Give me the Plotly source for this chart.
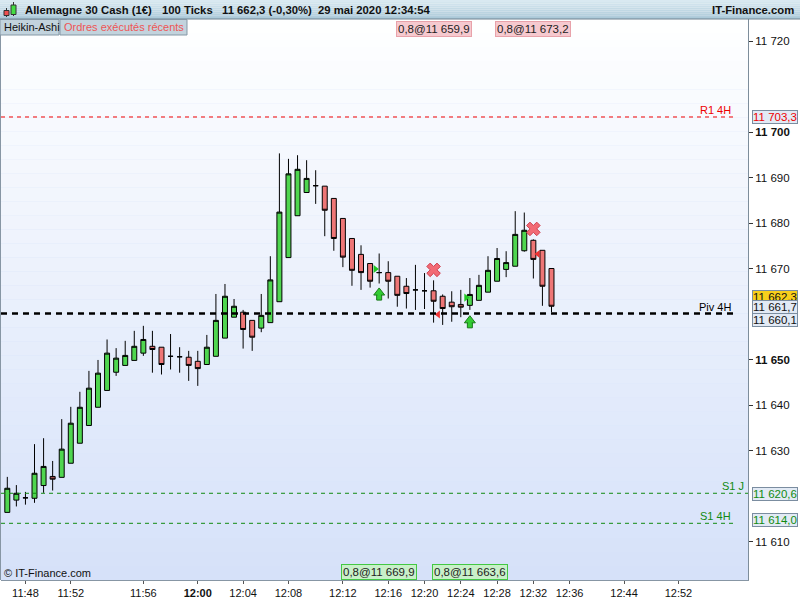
import plotly.graph_objects as go

# ---------------- data ----------------
candle_idx = list(range(61))
opens = [11616.4, 11619.1, 11619.6, 11619.5, 11622.3, 11624.3, 11624.1, 11627.2, 11631.6, 11635.5,
         11639.5, 11643.2, 11647.2, 11648.7, 11649.8, 11651.4, 11652.9, 11652.7, 11650.7, 11650.6,
         11650.5, 11649.6, 11648.9, 11650.7, 11654.7, 11659.3, 11660.4, 11658.6, 11656.9, 11658.1,
         11662.7, 11672.4, 11681.6, 11686.7, 11688.2, 11688.1, 11685.4, 11681.0, 11676.6, 11673.1,
         11671.1, 11669.1, 11669.1, 11668.3, 11666.1, 11665.3, 11665.1, 11665.1, 11663.9, 11662.6,
         11662.1, 11661.9, 11663.0, 11664.8, 11667.2, 11669.8, 11670.5, 11673.9, 11676.2, 11674.0,
         11670.0]
highs = [11624.2, 11622.4, 11620.9, 11631.4, 11632.7, 11627.7, 11636.9, 11639.6, 11642.9, 11647.5,
         11649.9, 11654.4, 11652.5, 11654.1, 11656.3, 11657.4, 11656.3, 11652.7, 11655.6, 11652.7,
         11651.9, 11651.9, 11655.4, 11664.4, 11666.6, 11663.3, 11660.9, 11658.6, 11664.4, 11672.7,
         11695.3, 11694.1, 11694.9, 11693.8, 11691.6, 11688.1, 11685.4, 11681.0, 11676.6, 11675.1,
         11671.1, 11673.3, 11671.6, 11668.3, 11667.9, 11670.8, 11669.0, 11667.4, 11664.3, 11665.0,
         11665.3, 11667.9, 11668.6, 11672.7, 11674.5, 11673.8, 11682.6, 11682.3, 11676.4, 11674.0,
         11670.0]
lows = [11616.4, 11617.7, 11618.1, 11618.5, 11620.7, 11621.2, 11624.1, 11627.2, 11631.6, 11635.5,
        11639.5, 11643.2, 11646.4, 11648.7, 11649.8, 11650.8, 11647.1, 11646.7, 11647.8, 11647.1,
        11645.3, 11644.2, 11648.9, 11650.7, 11654.7, 11659.3, 11652.4, 11651.9, 11656.0, 11658.1,
        11662.7, 11672.4, 11681.6, 11686.7, 11684.2, 11677.1, 11673.9, 11670.3, 11666.2, 11665.3,
        11665.8, 11666.7, 11663.4, 11661.6, 11661.2, 11660.9, 11661.1, 11658.1, 11657.6, 11658.3,
        11659.3, 11660.9, 11663.0, 11664.8, 11667.2, 11668.1, 11670.5, 11673.7, 11667.8, 11661.8,
        11660.4]
closes = [11621.7, 11620.6, 11619.6, 11625.0, 11626.5, 11623.7, 11630.3, 11636.0, 11639.5, 11643.7,
          11647.0, 11651.4, 11650.3, 11650.9, 11652.9, 11654.4, 11652.2, 11648.9, 11650.7, 11650.6,
          11648.7, 11648.0, 11652.7, 11658.6, 11663.9, 11661.7, 11656.6, 11654.9, 11659.7, 11667.5,
          11682.4, 11690.8, 11691.8, 11689.8, 11688.2, 11682.8, 11676.6, 11672.5, 11669.6, 11669.1,
          11667.2, 11669.1, 11667.2, 11664.1, 11664.5, 11665.3, 11665.1, 11662.8, 11661.2, 11661.6,
          11661.5, 11664.3, 11666.3, 11669.6, 11672.2, 11671.3, 11677.5, 11678.4, 11672.0, 11666.1,
          11661.7]

time_tick_idx = [2, 7, 15, 21, 26, 31, 37, 42, 46, 50, 54, 58, 62, 68, 74]
time_tick_labels = ["11:48", "11:52", "11:56", "12:00", "12:04", "12:08", "12:12", "12:16",
                    "12:20", "12:24", "12:28", "12:32", "12:36", "12:44", "12:52"]
price_ticks = [11610, 11630, 11640, 11650, 11670, 11680, 11690, 11700, 11720]
bold_price_ticks = [11650, 11700]

level_names = ["R1 4H", "Piv 4H", "S1 J", "S1 4H"]
level_values = [11703.3, 11660.1, 11620.6, 11614.0]
level_colors = ["#ee0000", "#000000", "#118a11", "#118a11"]

signal_up_idx = [41, 51]
signal_up_price = [11664.4, 11658.3]
signal_x_idx = [47, 58]
signal_x_price = [11669.7, 11678.7]

buy_candle = [41, 51]
buy_price = [11669.9, 11663.6]
sell_candle = [47, 58]
sell_price = [11659.9, 11673.2]
order_qty = 0.8

last_price = 11662.3
ha_close = 11661.7
title_parts = ["Allemagne 30 Cash (1€)", "100 Ticks", "11 662,3 (-0,30%)", "29 mai 2020 12:34:54"]

# ---------------- layout geometry ----------------
W, H = 800, 600
L, R, T, B = 1, 52, 19, 20
PW, PH = W - L - R, H - T - B
FONT = "Liberation Sans, Arial, sans-serif"
PX_PER_UNIT = 4.55


def px(x):
    return (x - L) / PW


def py(y):
    return (H - B - y) / PH


def fr(v, d=1):
    s = f"{v:,.{d}f}"
    return s.replace(",", " ").replace(".", ",")


def lerp(c1, c2, t):
    a = [int(c1[i:i + 2], 16) for i in (1, 3, 5)]
    b = [int(c2[i:i + 2], 16) for i in (1, 3, 5)]
    return "#" + "".join(f"{round(a[k] + (b[k] - a[k]) * t):02x}" for k in range(3))


fig = go.Figure()

fig.add_trace(go.Candlestick(
    x=candle_idx, open=opens, high=highs, low=lows, close=closes,
    increasing=dict(fillcolor="#4fd64f", line=dict(color="#000000", width=1)),
    decreasing=dict(fillcolor="#ee7676", line=dict(color="#000000", width=1)),
    whiskerwidth=0, showlegend=False, hoverinfo="skip"))

# up-arrow signals: shaft + head (pixel offsets converted to price units)
ARROW_G, ARROW_D = "#33cc33", "#1a7a1a"
fig.add_trace(go.Scatter(
    x=signal_up_idx, y=[p - 3.6 / PX_PER_UNIT for p in signal_up_price], mode="markers",
    marker=dict(symbol="square", size=5, color=ARROW_G, line=dict(color=ARROW_D, width=1)),
    showlegend=False, hoverinfo="skip"))
fig.add_trace(go.Scatter(
    x=signal_up_idx, y=[p + 1.3 / PX_PER_UNIT for p in signal_up_price], mode="markers",
    marker=dict(symbol="triangle-up", size=9.5, color=ARROW_G, line=dict(color=ARROW_D, width=1)),
    showlegend=False, hoverinfo="skip"))
fig.add_trace(go.Scatter(
    x=signal_up_idx, y=[p - 1.1 / PX_PER_UNIT for p in signal_up_price], mode="markers",
    marker=dict(symbol="square", size=3.6, color=ARROW_G, line=dict(width=0)),
    showlegend=False, hoverinfo="skip"))
fig.add_trace(go.Scatter(
    x=signal_x_idx, y=signal_x_price, mode="markers",
    marker=dict(symbol="x", size=12, color="#f26a74", line=dict(color="#d04050", width=1)),
    showlegend=False, hoverinfo="skip"))
# executed orders
fig.add_trace(go.Scatter(
    x=[c - 0.42 for c in buy_candle], y=buy_price, mode="markers",
    marker=dict(symbol="triangle-right", size=7, color="#22c822", line=dict(width=0)),
    showlegend=False, hoverinfo="skip"))
fig.add_trace(go.Scatter(
    x=[c + 0.5 for c in sell_candle], y=sell_price, mode="markers",
    marker=dict(symbol="triangle-left", size=7, color="#ee3333", line=dict(width=0)),
    showlegend=False, hoverinfo="skip"))

shapes = []
annotations = []

# plot background gradient
N = 40
top_c, bot_c = "#ffffff", "#d5e1f9"
for i in range(N):
    y0 = T + PH * i / N
    y1 = T + PH * (i + 1) / N
    shapes.append(dict(type="rect", xref="paper", yref="paper", x0=0, x1=1, y0=py(y1), y1=py(y0),
                       fillcolor=lerp(top_c, bot_c, (i + 0.5) / N), line=dict(width=0), layer="below"))

# header gradient
NH = 10
for i in range(NH):
    y0 = 19 * i / NH
    y1 = 19 * (i + 1) / NH
    shapes.append(dict(type="rect", xref="paper", yref="paper", x0=px(0), x1=px(800), y0=py(y1), y1=py(y0),
                       fillcolor=lerp("#dcebf2", "#a9c8d8", (i + 0.5) / NH), line=dict(width=0)))
shapes.append(dict(type="line", xref="paper", yref="paper", x0=px(0), x1=px(800), y0=py(19), y1=py(19),
                   line=dict(color="#6f8290", width=1)))

# left border
shapes.append(dict(type="line", xref="paper", yref="paper", x0=px(0.5), x1=px(0.5), y0=0, y1=1,
                   line=dict(color="#8796a4", width=1)))

# legend buttons
for (x0, x1, txt, col) in [(0, 59, "Heikin-Ashi", "#111111"), (60, 187, "Ordres exécutés récents", "#ee5555")]:
    shapes.append(dict(type="rect", xref="paper", yref="paper", x0=px(x0), x1=px(x1), y0=py(35), y1=py(19.5),
                       fillcolor="#c2d3dd", line=dict(color="#8597a5", width=1)))
    annotations.append(dict(x=px(x0 + 2), y=py(27.5), xref="paper", yref="paper", text=txt, showarrow=False,
                            xanchor="left", yanchor="middle", font=dict(family=FONT, size=11, color=col)))

# header icon
shapes += [
    dict(type="line", xref="paper", yref="paper", x0=px(6.5), x1=px(6.5), y0=py(17), y1=py(8),
         line=dict(color="#333333", width=1)),
    dict(type="rect", xref="paper", yref="paper", x0=px(4), x1=px(9), y0=py(15.5), y1=py(10.5),
         fillcolor="#ee5050", line=dict(color="#333333", width=1)),
    dict(type="line", xref="paper", yref="paper", x0=px(13.5), x1=px(13.5), y0=py(16), y1=py(2),
         line=dict(color="#333333", width=1)),
    dict(type="rect", xref="paper", yref="paper", x0=px(11), x1=px(16), y0=py(14.5), y1=py(5),
         fillcolor="#44dd44", line=dict(color="#333333", width=1)),
]

# header text
for xpos, txt in zip([23, 160, 220, 316], title_parts):
    annotations.append(dict(x=px(xpos), y=py(10), xref="paper", yref="paper", text=f"<b>{txt}</b>",
                            showarrow=False, xanchor="left", yanchor="middle",
                            font=dict(family=FONT, size=11.3, color="#111111")))
annotations.append(dict(x=px(796), y=py(10), xref="paper", yref="paper", text="<b>IT-Finance.com</b>",
                        showarrow=False, xanchor="right", yanchor="middle",
                        font=dict(family=FONT, size=11.3, color="#111111")))
annotations.append(dict(x=px(2), y=py(573), xref="paper", yref="paper", text="© IT-Finance.com",
                        showarrow=False, xanchor="left", yanchor="middle",
                        font=dict(family=FONT, size=11, color="#111111")))

# level lines
for name, val, col in zip(level_names, level_values, level_colors):
    is_day = name.endswith(" J")
    x_end = 1.0 if is_day else px(733)
    width = 2.5 if name.startswith("Piv") else 1
    dash = "6px,5px" if name.startswith("Piv") else "4px,4px"
    shapes.append(dict(type="line", xref="paper", yref="y", x0=0, x1=x_end, y0=val, y1=val,
                       line=dict(color=col, width=width, dash=dash)))
    annotations.append(dict(x=(px(746) if is_day else px(733)), y=val, xref="paper", yref="y", text=name,
                            showarrow=False, xanchor="right", yanchor="bottom", yshift=-1,
                            font=dict(family=FONT, size=11, color=col)))

# right-axis price boxes
box_font = dict(family=FONT, size=11.5)
price_boxes = [
    (level_values[0], level_colors[0], "#e2eaf5", 0),
    (level_values[2], level_colors[2], "#e2eaf5", -1),
    (level_values[3], level_colors[3], "#e2eaf5", 3),
    (last_price, "#111111", "#f8cf1c", 7),
    (ha_close, "#111111", "#e2eaf5", -0.5),
    (level_values[1], "#111111", "#e2eaf5", -6.5),
]
for val, col, bg, ys in price_boxes:
    annotations.append(dict(x=px(752), y=val, xref="paper", yref="y", text=fr(val), showarrow=False,
                            xanchor="left", yanchor="middle", yshift=ys, bgcolor=bg,
                            bordercolor="#7b8da0", borderwidth=1, borderpad=0,
                            font=dict(color=col, **box_font)))

# order labels
for c, p in zip(sell_candle, sell_price):
    annotations.append(dict(x=c, y=py(28.5), xref="x", yref="paper", text=f"{fr(order_qty)}@{fr(p)}",
                            showarrow=False, xanchor="center", yanchor="middle", bgcolor="#f6c9cf",
                            bordercolor="#e8a2aa", borderwidth=1, borderpad=1,
                            font=dict(family=FONT, size=11.5, color="#222222")))
for c, p in zip(buy_candle, buy_price):
    annotations.append(dict(x=c, y=py(571.5), xref="x", yref="paper", text=f"{fr(order_qty)}@{fr(p)}",
                            showarrow=False, xanchor="center", yanchor="middle", bgcolor="#c9f0c9",
                            bordercolor="#44c844", borderwidth=1, borderpad=1,
                            font=dict(family=FONT, size=11.5, color="#222222")))

x0_idx = (L - 7.3) / 9.07
x1_idx = (L + PW - 7.3) / 9.07
y_top = 11700 + (132 - T) / PX_PER_UNIT
y_bot = 11700 - (H - B - 132) / PX_PER_UNIT

fig.update_layout(
    width=W, height=H, margin=dict(l=L, r=R, t=T, b=B, autoexpand=False),
    paper_bgcolor="#ffffff", plot_bgcolor=bot_c, boxgap=0.22,
    shapes=shapes, annotations=annotations, showlegend=False,
    font=dict(family=FONT, size=11.5, color="#111111"),
    xaxis=dict(range=[x0_idx, x1_idx], rangeslider=dict(visible=False), showgrid=False, zeroline=False,
               automargin=False,
               tickmode="array", tickvals=time_tick_idx,
               ticktext=[f"<b>{t}</b>" if t == "12:00" else t for t in time_tick_labels],
               ticks="outside", ticklen=3, tickcolor="#555555", showline=True, linecolor="#8796a4",
               tickfont=dict(family=FONT, size=11, color="#111111")),
    yaxis=dict(range=[y_bot, y_top], side="right", showgrid=False, zeroline=False,
               automargin=False,
               tickmode="array", tickvals=price_ticks,
               ticktext=[f"<b>{fr(v, 0)}</b>" if v in bold_price_ticks else fr(v, 0) for v in price_ticks],
               ticks="outside", ticklen=4, tickcolor="#333333", showline=True, linecolor="#7d8d9b",
               tickfont=dict(family=FONT, size=11.5, color="#111111")),
)

fig.write_html("out.html", config={"displayModeBar": False},
               post_script="document.body.style.margin='0';document.body.style.padding='0';")
